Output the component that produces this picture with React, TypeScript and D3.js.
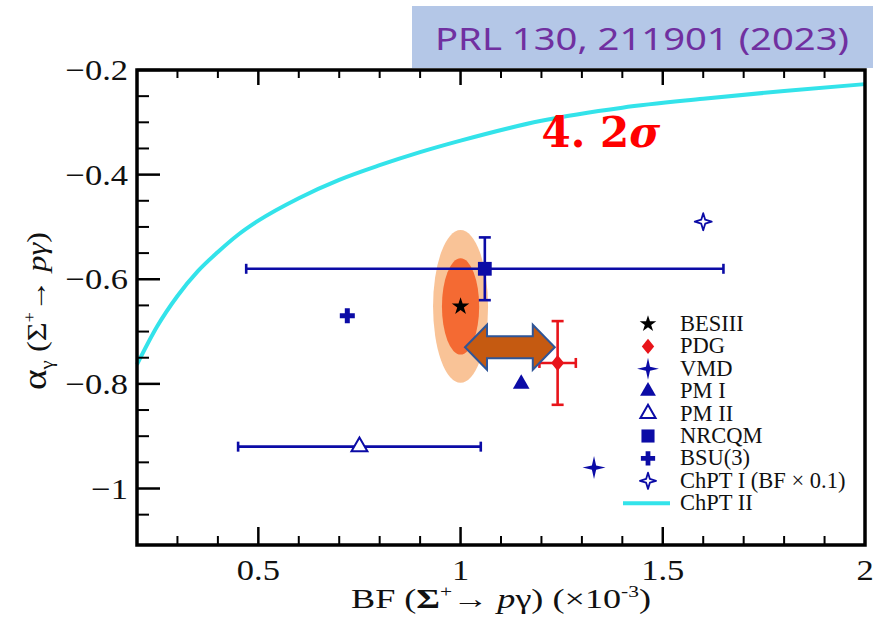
import React from 'react';
import * as d3 from 'd3';

// Figure size
const W = 885;
const H = 617;

// Axis ranges
const bfDomain = [0.2, 2.0];
const alphaDomain = [-0.2, -1.108];
const xMajorTicks = [0.5, 1, 1.5, 2];
const yMajorTicks = [-0.2, -0.4, -0.6, -0.8, -1];
const xMinorTicks = d3.range(0.3, 2.0, 0.1).map(v => +v.toFixed(2)).filter(v => !xMajorTicks.includes(v));
const yMinorTicks = d3.range(-0.25, -1.1, -0.05).map(v => +v.toFixed(2)).filter(v => !yMajorTicks.includes(v));

// Points: BESIII, PDG, VMD, PM I, PM II, NRCQM, BSU(3), ChPT I
const pointNames = ['BESIII', 'PDG', 'VMD', 'PM I', 'PM II', 'NRCQM', 'BSU(3)', 'ChPT I (BF \u00d7 0.1)'];
const pointBF = [1.0, 1.24, 1.33, 1.15, 0.75, 1.06, 0.72, 1.6];
const pointAlpha = [-0.652, -0.76, -0.96, -0.80, -0.92, -0.58, -0.67, -0.49];
const pointXErr = [null, [1.195, 1.285], null, null, [0.45, 1.05], [0.47, 1.65], null, null];
const pointYErr = [null, [-0.84, -0.68], null, null, null, [-0.64, -0.52], null, null];

// BESIII 1 and 2 sigma contours (semi-axes in data units)
const contourRx = [0.068, 0.046];
const contourRy = [0.146, 0.092];

// ChPT II curve
const chptBF = [0.2, 0.25, 0.3, 0.35, 0.4, 0.45, 0.5, 0.6, 0.7, 0.8, 0.9, 1.0, 1.2, 1.4, 1.6, 1.8, 2.0];
const chptAlpha = [-0.763, -0.69, -0.632, -0.585, -0.548, -0.515, -0.488, -0.445, -0.41, -0.382, -0.357, -0.335, -0.297, -0.272, -0.255, -0.24, -0.227];

// arrow between BESIII and PDG
const arrowBF = [1.011, 1.233];
const arrowAlpha = -0.73;

const BLUE = '#0b0ba6';
const RED = '#e8141a';
const CYAN = '#33e3ea';
const serif = '"Liberation Serif", "Times New Roman", serif';

const star4 = (outer: number, inner: number) => {
  const pts = d3.range(8).map(i => {
    const a = (i * Math.PI) / 4 - Math.PI / 2;
    const r = i % 2 === 0 ? outer : inner;
    return [r * Math.cos(a), r * Math.sin(a)];
  });
  return 'M' + pts.map(p => p.join(',')).join('L') + 'Z';
};

const Marker = ({ kind, cx, cy, s = 1 }: { kind: number; cx: number; cy: number; s?: number }) => {
  const t = `translate(${cx},${cy})`;
  switch (kind) {
    case 0:
      return <path transform={t} d={d3.symbol(d3.symbolStar, 95 * s * s)()!} fill="#000" />;
    case 1:
      return <path transform={t} d={`M0,${-8 * s}L${6.5 * s},0L0,${8 * s}L${-6.5 * s},0Z`} fill={RED} />;
    case 2:
      return <path transform={t} d={star4(11.5 * s, 3 * s)} fill={BLUE} />;
    case 3:
      return <path transform={t} d={d3.symbol(d3.symbolTriangle, 120 * s * s)()!} fill={BLUE} />;
    case 4:
      return <path transform={t} d={d3.symbol(d3.symbolTriangle, 110 * s * s)()!} fill="#fff" stroke={BLUE} strokeWidth={2} />;
    case 5:
      return <path transform={t} d={d3.symbol(d3.symbolSquare, 190 * s * s)()!} fill={BLUE} />;
    case 6:
      return <path transform={t} d={d3.symbol(d3.symbolCross, 125 * s * s)()!} fill={BLUE} />;
    case 7:
      return <path transform={t} d={star4(8.5 * s, 2.8 * s)} fill="#fff" stroke={BLUE} strokeWidth={1.8} strokeLinejoin="round" />;
    default:
      return null;
  }
};

export default function App() {
  const x = d3.scaleLinear().domain(bfDomain).range([137, 865]);
  const y = d3.scaleLinear().domain(alphaDomain).range([70, 545]);
  const [x0, x1] = x.range();
  const [y0, y1] = y.range();

  const curve = d3
    .line<number>()
    .x((_, i) => x(chptBF[i]))
    .y((_, i) => y(chptAlpha[i]))
    .curve(d3.curveMonotoneX)(chptBF);

  // double arrow polygon
  const ax1 = x(arrowBF[0]);
  const ax2 = x(arrowBF[1]);
  const ay = y(arrowAlpha);
  const hl = 22, hh = 22.5, sh = 11;
  const arrowPath = `M${ax1},${ay}L${ax1 + hl},${ay - hh}L${ax1 + hl},${ay - sh}L${ax2 - hl},${ay - sh}L${ax2 - hl},${ay - hh}L${ax2},${ay}L${ax2 - hl},${ay + hh}L${ax2 - hl},${ay + sh}L${ax1 + hl},${ay + sh}L${ax1 + hl},${ay + hh}Z`;

  const legendX = 648;
  const legendTextX = 680;
  const legendY = (i: number) => 324 + i * 22.4;

  return (
    <svg width={W} height={H} style={{ position: 'absolute', left: 0, top: 0, background: '#fff' }}>
      {/* BESIII contours */}
      {contourRx.map((rx, i) => (
        <ellipse
          key={i}
          cx={x(pointBF[0])}
          cy={y(pointAlpha[0])}
          rx={x(bfDomain[0] + rx) - x0}
          ry={y(alphaDomain[0] - contourRy[i]) - y0}
          fill={i === 0 ? '#f9c397' : '#f46a33'}
        />
      ))}

      {/* ChPT II */}
      <path d={curve!} fill="none" stroke={CYAN} strokeWidth={4} />

      {/* error bars */}
      {pointBF.map((bf, i) => {
        const col = i === 1 ? RED : BLUE;
        const xe = pointXErr[i];
        const ye = pointYErr[i];
        const cy = y(pointAlpha[i]);
        const cx = x(bf);
        return (
          <g key={i} stroke={col} strokeWidth={2.6}>
            {xe && (
              <>
                <line x1={x(xe[0])} x2={x(xe[1])} y1={cy} y2={cy} />
                <line x1={x(xe[0])} x2={x(xe[0])} y1={cy - 5} y2={cy + 5} />
                <line x1={x(xe[1])} x2={x(xe[1])} y1={cy - 5} y2={cy + 5} />
              </>
            )}
            {ye && (
              <>
                <line x1={cx} x2={cx} y1={y(ye[0])} y2={y(ye[1])} />
                <line x1={cx - 6} x2={cx + 6} y1={y(ye[0])} y2={y(ye[0])} />
                <line x1={cx - 6} x2={cx + 6} y1={y(ye[1])} y2={y(ye[1])} />
              </>
            )}
          </g>
        );
      })}

      {/* markers */}
      {pointBF.map((bf, i) => (
        <Marker key={i} kind={i} cx={x(bf)} cy={y(pointAlpha[i])} />
      ))}

      {/* arrow */}
      <path d={arrowPath} fill="#c55a11" stroke="#2f5597" strokeWidth={2} strokeLinejoin="miter" />

      {/* frame and ticks */}
      <g stroke="#000">
        {xMajorTicks.filter(v => v < bfDomain[1]).map(v => (
          <g key={'xM' + v} strokeWidth={2.5}>
            <line x1={x(v)} x2={x(v)} y1={y1} y2={y1 - 18} />
            <line x1={x(v)} x2={x(v)} y1={y0} y2={y0 + 15} />
          </g>
        ))}
        {xMinorTicks.map(v => (
          <g key={'xm' + v} strokeWidth={2}>
            <line x1={x(v)} x2={x(v)} y1={y1} y2={y1 - 9} />
            <line x1={x(v)} x2={x(v)} y1={y0} y2={y0 + 8} />
          </g>
        ))}
        {yMajorTicks.map(v => (
          <line key={'yM' + v} x1={x0} x2={x0 + 23} y1={y(v)} y2={y(v)} strokeWidth={2.5} />
        ))}
        {yMinorTicks.map(v => (
          <line key={'ym' + v} x1={x0} x2={x0 + 12} y1={y(v)} y2={y(v)} strokeWidth={2} />
        ))}
        <rect x={x0} y={y0} width={x1 - x0} height={y1 - y0} fill="none" strokeWidth={3.5} />
      </g>

      {/* tick labels (slightly widened like the source slide) */}
      <g fontFamily={serif} fontSize={30} fill="#111">
        {xMajorTicks.map(v => (
          <text key={'xl' + v} transform={`translate(${x(v)},${y1 + 35}) scale(1.15,1)`} textAnchor="middle">
            {d3.format('~g')(v)}
          </text>
        ))}
        {yMajorTicks.map(v => (
          <text key={'yl' + v} transform={`translate(${x0 - 9},${y(v) + 10}) scale(1.15,1)`} textAnchor="end">
            {'\u2212' + d3.format('~g')(Math.abs(v))}
          </text>
        ))}
      </g>

      {/* axis titles */}
      <text x={501} y={608} fontFamily={serif} fontSize={27} textAnchor="middle" fill="#111" textLength={300} lengthAdjust="spacingAndGlyphs">
        BF (
        <tspan fontWeight="bold">{'\u03a3'}</tspan>
        <tspan fontSize={16} dy={-11}>+</tspan>
        <tspan dy={11}>{'\u2192 '}</tspan>
        <tspan fontStyle="italic">p</tspan>
        <tspan>{'\u03b3) (\u00d710'}</tspan>
        <tspan fontSize={16} dy={-11}>-3</tspan>
        <tspan dy={11}>)</tspan>
      </text>
      <text transform="translate(46,311) rotate(-90)" fontFamily={serif} fontSize={28} textAnchor="middle" fill="#111" textLength={158} lengthAdjust="spacingAndGlyphs">
        <tspan fontSize={34}>{'\u03b1'}</tspan>
        <tspan fontSize={18} dy={7}>{'\u03b3'}</tspan>
        <tspan dy={-7}>{' ('}</tspan>
        <tspan>{'\u03a3'}</tspan>
        <tspan fontSize={16} dy={-11}>+</tspan>
        <tspan dy={11}>{'\u2192 '}</tspan>
        <tspan fontStyle="italic">{'p\u03b3'}</tspan>
        <tspan>)</tspan>
      </text>

      {/* legend */}
      <g fontFamily={serif} fontSize={22.5} fill="#111">
        {pointNames.map((n, i) => (
          <g key={n}>
            <Marker kind={i} cx={legendX} cy={legendY(i)} s={0.95} />
            <text x={legendTextX} y={legendY(i) + 7}>{n}</text>
          </g>
        ))}
        <line x1={623} x2={670} y1={legendY(8)} y2={legendY(8)} stroke={CYAN} strokeWidth={4} />
        <text x={legendTextX} y={legendY(8) + 7}>ChPT II</text>
      </g>

      {/* significance */}
      <text x={x(1.2)} y={y(-0.347)} fontFamily='"DejaVu Serif", serif' fontWeight="bold" fontSize={42} fill="#ff0000">
        4. 2<tspan fontStyle="italic">{'\u03c3'}</tspan>
      </text>

      {/* reference banner */}
      <rect x={412} y={6} width={461} height={62} fill="#b4c7e7" />
      <text x={642} y={50} fontFamily='"Comic Sans MS", "Noto Sans", sans-serif' fontSize={31} fill="#7030a0" textAnchor="middle" textLength={414} lengthAdjust="spacingAndGlyphs">
        PRL 130, 211901 (2023)
      </text>
    </svg>
  );
}
